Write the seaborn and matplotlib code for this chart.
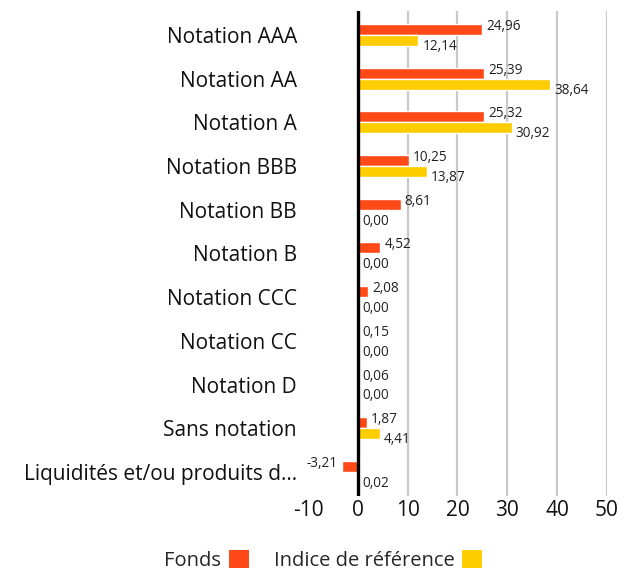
import pandas as pd
import matplotlib.pyplot as plt
import seaborn as sns
from matplotlib.patches import Patch

categories = ["Notation AAA", "Notation AA", "Notation A", "Notation BBB",
              "Notation BB", "Notation B", "Notation CCC", "Notation CC",
              "Notation D", "Sans notation", "Liquidités et/ou produits d…"]
fonds = [24.96, 25.39, 25.32, 10.25, 8.61, 4.52, 2.08, 0.15, 0.06, 1.87, -3.21]
indice = [12.14, 38.64, 30.92, 13.87, 0.00, 0.00, 0.00, 0.00, 0.00, 4.41, 0.02]
series = ["Fonds", "Indice de référence"]
colors = ["#FF4A17", "#FFCD00"]

sns.set_style("white")
plt.rcParams['font.family'] = ['Open Sans', 'DejaVu Sans']
plt.rcParams['axes.unicode_minus'] = False

df = pd.DataFrame({
    "cat": categories * 2,
    "val": fonds + indice,
    "serie": [series[0]] * len(categories) + [series[1]] * len(categories),
})

fig = plt.figure(figsize=(6.34, 5.74), dpi=100)
ax = fig.add_axes([0.486, 0.136, 0.471, 0.845])

sns.barplot(data=df, y="cat", x="val", hue="serie", hue_order=series,
            palette=colors, orient="h", width=0.5, saturation=1,
            legend=False, ax=ax)

ax.set_xlim(-10, 50)
ax.set_ylim(len(categories) - 0.45, -0.55)
ax.set_xticks(range(-10, 51, 10))
ax.set_xlabel("")
ax.set_ylabel("")
ax.tick_params(axis="both", length=0, labelsize=15, labelcolor="#111111")
ax.tick_params(axis="y", pad=8)
ax.tick_params(axis="x", pad=3)
for s in ax.spines.values():
    s.set_visible(False)

# grille verticale (sans la ligne a -10)
for xv in range(10, 51, 10):
    ax.axvline(xv, color="#C8C8C8", lw=1.6, zorder=0)
ax.axvline(0, color="black", lw=2.4, zorder=3)

# etiquettes de valeurs
for i, cont in enumerate(ax.containers):
    vals = fonds if i == 0 else indice
    dy = 3 if i == 0 else -6
    for bar, v in zip(cont, vals):
        y = bar.get_y() + bar.get_height() / 2
        txt = f"{v:.2f}".replace(".", ",")
        ha = "left" if v >= 0 else "right"
        dx = 4 if v >= 0 else -4
        ax.annotate(txt, xy=(v, y), xytext=(dx, dy), textcoords="offset pixels",
                    ha=ha, va="center", fontsize=9.8, color="#222222")

handles = [Patch(facecolor=c, edgecolor="none") for c in colors]
fig.legend(handles, series, loc="lower center", bbox_to_anchor=(0.51, -0.026),
           ncol=2, frameon=False, markerfirst=False, fontsize=14.5,
           handlelength=1.0, handleheight=1.0, handletextpad=0.4,
           columnspacing=1.2)

plt.savefig("out.png", dpi=100)
